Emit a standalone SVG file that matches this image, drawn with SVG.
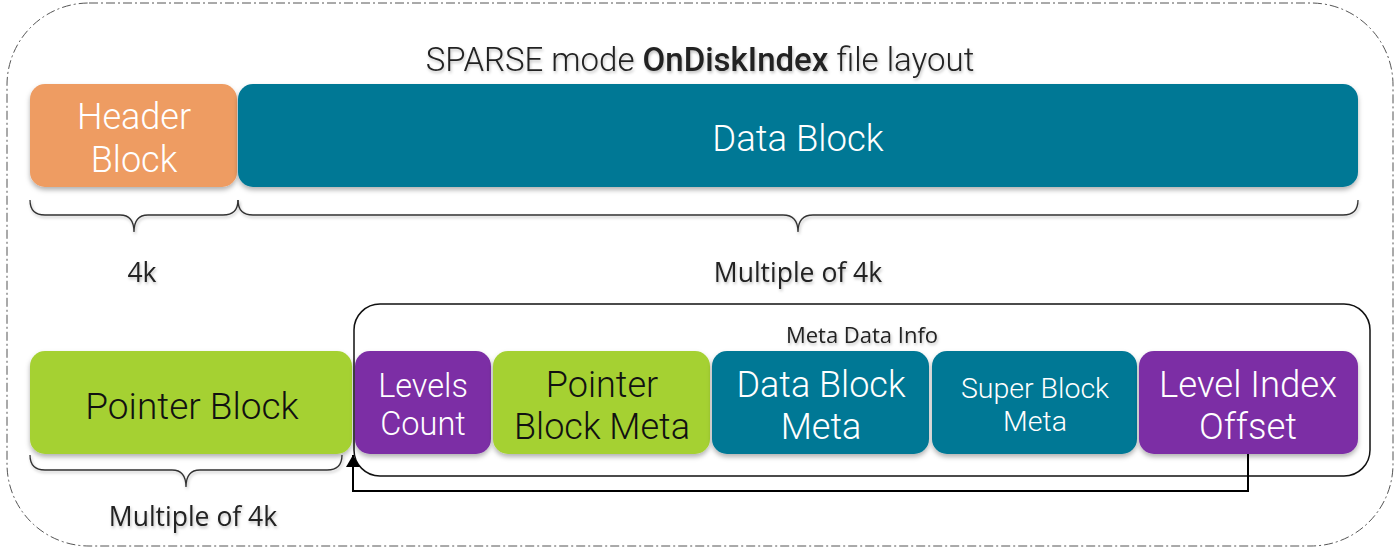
<svg xmlns="http://www.w3.org/2000/svg" width="1400" height="557" viewBox="0 0 1400 557">
<defs>
<filter id="sh" x="-10%" y="-10%" width="120%" height="130%">
<feDropShadow dx="0" dy="3" stdDeviation="2.5" flood-color="#000" flood-opacity="0.3"/>
</filter>
<filter id="tsh" x="-10%" y="-20%" width="120%" height="150%">
<feDropShadow dx="1" dy="2" stdDeviation="1.5" flood-color="#000" flood-opacity="0.25"/>
</filter>
<marker id="arr" viewBox="0 0 12 14" refX="12" refY="7" markerWidth="12" markerHeight="14" markerUnits="userSpaceOnUse" orient="auto">
<path d="M0,0 L12,7 L0,14 z" fill="#000"/>
</marker>
</defs>
<style>
.box{filter:url(#sh)}
.t{font-family:Roboto,"Open Sans",sans-serif;font-weight:300;text-anchor:middle}
.w{fill:#fff}
.k{fill:#111}
.lbl{font-family:"Open Sans","Liberation Sans",sans-serif;font-size:26.5px;fill:#222;text-anchor:middle;filter:url(#tsh)}
.brace{fill:none;stroke:#333;stroke-width:1.3;filter:url(#tsh)}
.orange{fill:#EE9C62}
.teal{fill:#007895}
.green{fill:#A5D133}
.purple{fill:#7B2FA5}
</style>
<rect x="7" y="3" width="1386" height="543" rx="82" ry="82" fill="none" stroke="#555" stroke-width="1" stroke-dasharray="9,3,2,3"/>
<text x="700" y="71" class="t" font-size="33" fill="#222" style="filter:url(#tsh)">SPARSE mode <tspan font-weight="500">OnDiskIndex</tspan> file layout</text>

<g id="header-block"><rect class="box orange" x="30" y="84" width="207" height="103" rx="15"/>
<text class="t w" x="134" y="129" font-size="36">Header</text><text class="t w" x="134" y="172" font-size="36">Block</text></g>
<g id="data-block"><rect class="box teal" x="238" y="84" width="1120" height="103" rx="15"/>
<text class="t w" x="798" y="151" font-size="36.5">Data Block</text></g>

<g id="braces">
<path class="brace" d="M30,200 Q30,215 45,215 L120,215 Q134,215 134,232 Q134,215 148,215 L223,215 Q238,215 238,200"/>
<path class="brace" d="M238,200 Q238,215 253,215 L783,215 Q798,215 798,232 Q798,215 813,215 L1343,215 Q1358,215 1358,200"/>
<path class="brace" d="M30,455 Q30,470 45,470 L172,470 Q186,470 186,487 Q186,470 200,470 L327,470 Q342,470 342,455"/>
</g>
<text class="lbl" x="142" y="282">4k</text>
<text class="lbl" x="798" y="282">Multiple of 4k</text>
<text class="lbl" x="193" y="526">Multiple of 4k</text>

<g id="meta-data-info"><rect x="354" y="304" width="1016" height="172" rx="26" fill="none" stroke="#111" stroke-width="1.5"/>
<text x="862" y="343" font-family="'Open Sans','Liberation Sans',sans-serif" font-size="22" fill="#222" text-anchor="middle" style="filter:url(#tsh)">Meta Data Info</text></g>

<g id="pointer-block"><rect class="box green" x="30" y="351" width="322" height="103" rx="15"/>
<text class="t k" x="192" y="419" font-size="37">Pointer Block</text></g>
<g id="levels-count"><rect class="box purple" x="355" y="351" width="136" height="103" rx="15"/>
<text class="t w" x="423" y="397" font-size="32.5">Levels</text><text class="t w" x="423" y="435" font-size="32.5">Count</text></g>
<g id="pointer-block-meta"><rect class="box green" x="493" y="351" width="217" height="103" rx="15"/>
<text class="t k" x="602" y="397" font-size="36">Pointer</text><text class="t k" x="602" y="439" font-size="36">Block Meta</text></g>
<g id="data-block-meta"><rect class="box teal" x="712" y="351" width="217" height="103" rx="15"/>
<text class="t w" x="821" y="397" font-size="36">Data Block</text><text class="t w" x="821" y="439" font-size="36">Meta</text></g>
<g id="super-block-meta"><rect class="box teal" x="932" y="351" width="205" height="103" rx="15"/>
<text class="t w" x="1035" y="398" font-size="28.5">Super Block</text><text class="t w" x="1035" y="431" font-size="28.5">Meta</text></g>
<g id="level-index-offset"><rect class="box purple" x="1139" y="351" width="219" height="103" rx="15"/>
<text class="t w" x="1248" y="397" font-size="36.5">Level Index</text><text class="t w" x="1248" y="439" font-size="36.5">Offset</text></g>

<g id="connectors">
<path d="M1248,454 L1248,491 L353,491 L353,455" fill="none" stroke="#000" stroke-width="2" marker-end="url(#arr)"/>
</g>
</svg>
